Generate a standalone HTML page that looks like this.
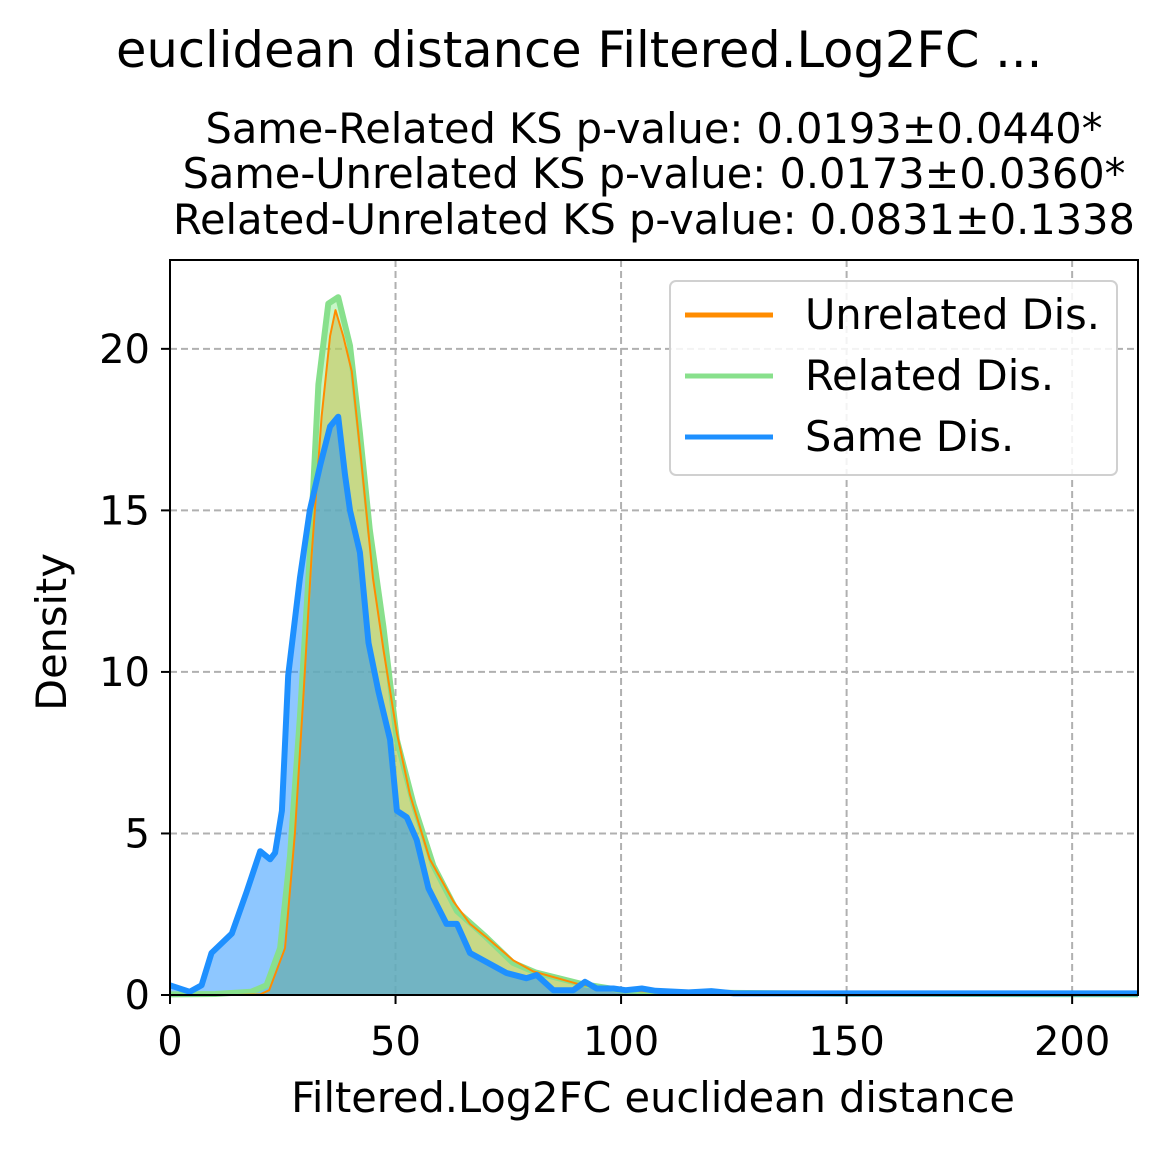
<!DOCTYPE html>
<html><head><meta charset="utf-8"><style>
body{margin:0;background:#fff}
svg{display:block;font-family:"DejaVu Sans","Liberation Sans",sans-serif}
</style></head><body>
<svg id="chart" width="1167" height="1151" viewBox="0 0 1167 1151" xmlns="http://www.w3.org/2000/svg">
<rect width="1167" height="1151" fill="#fff"/>
<text x="116" y="67" font-size="49.5" fill="#000">euclidean distance Filtered.Log2FC ...</text>
<g font-size="41.5" text-anchor="middle" fill="#000">
<text x="654" y="143">Same-Related KS p-value: 0.0193±0.0440*</text>
<text x="654" y="188">Same-Unrelated KS p-value: 0.0173±0.0360*</text>
<text x="654" y="234">Related-Unrelated KS p-value: 0.0831±0.1338</text>
</g>
<g id="grid"></g>
<g id="fills"></g>
<g id="lines"></g>
<rect x="170" y="260" width="968" height="735" fill="none" stroke="#000" stroke-width="2"/>
<g id="ticks"></g>
<text x="653" y="1112" font-size="41.5" text-anchor="middle">Filtered.Log2FC euclidean distance</text>
<text transform="translate(66,632) rotate(-90)" font-size="41.5" text-anchor="middle">Density</text>
<g>
<rect x="670" y="281" width="447" height="194" rx="6" fill="#fff" fill-opacity="0.85" stroke="#d0d0d0" stroke-width="2"/>
<g><line x1="685" y1="315" x2="773" y2="315" stroke="#ff8c00" stroke-width="5"/><text x="805" y="329" font-size="41.5">Unrelated Dis.</text></g>
<g><line x1="685" y1="376" x2="773" y2="376" stroke="#88e08c" stroke-width="5"/><text x="805" y="390" font-size="41.5">Related Dis.</text></g>
<g><line x1="685" y1="437" x2="773" y2="437" stroke="#1e90ff" stroke-width="5"/><text x="805" y="451" font-size="41.5">Same Dis.</text></g>
</g>
</svg>
<script>
const xTicks=[0,50,100,150,200];
const yTicks=[0,5,10,15,20];
const sameX=[0,4.4,7,9.2,13.7,17,20,22.2,23.3,24.8,26.2,28.8,31,33.3,35.5,37.3,38.8,39.9,42.1,44,46.2,48.8,50.3,52.5,54.7,57.3,61.3,63.6,66.5,74.6,79,81.3,85,89.4,92,94.6,98.3,101,104.6,107.6,115,120,125,150,214.6];
const sameY=[0.3,0.1,0.3,1.3,1.9,3.2,4.45,4.2,4.4,5.7,9.9,12.9,15,16.4,17.6,17.9,16.1,15,13.7,10.9,9.4,7.9,5.7,5.5,4.8,3.3,2.2,2.2,1.3,0.68,0.52,0.62,0.15,0.15,0.41,0.2,0.2,0.15,0.2,0.13,0.08,0.12,0.05,0.05,0.05];
const unrelX=[0,15,20,22,25.5,27.7,29.6,31.4,33.6,35.5,36.7,38.4,40.3,42.5,45,47.3,50.3,53.2,57.6,62.8,66.5,70,76.1,80.5,91,100,110,150,214.6];
const unrelY=[0,0,0.02,0.15,1.45,5,9.3,13.6,17.9,20.4,21.2,20.4,19.3,16.4,12.9,10.7,8.1,6.2,4.2,2.9,2.2,1.8,1.07,0.73,0.32,0.15,0.08,0.05,0.02];
const relX=[0,10,18,21.4,24.4,26.6,28.8,31,32.9,35.1,37.3,39.9,42.1,44.3,47.3,50.3,54,58.4,63.6,70,76,81,91,100,110,150,214.6];
const relY=[0.02,0.03,0.1,0.3,1.45,4.3,8.6,13.6,18.9,21.4,21.6,20.1,17.4,14.4,11.4,7.9,5.9,4,2.6,1.8,1.0,0.7,0.35,0.15,0.08,0.04,0.02];
const X0=170,X1=1138,Y0=995,Y1=260,XMAX=214.6,YMAX=22.75;
const sx=v=>X0+v/XMAX*(X1-X0), sy=v=>Y0-v/YMAX*(Y0-Y1);
const NS="http://www.w3.org/2000/svg";
const mk=(t,a,p)=>{const e=document.createElementNS(NS,t);for(const k in a)e.setAttribute(k,a[k]);p.appendChild(e);return e;};
const grid=document.getElementById('grid'),ticks=document.getElementById('ticks');
xTicks.forEach(t=>{
  const g=mk('line',{x1:sx(t),x2:sx(t),y1:Y1,y2:Y0,stroke:'#b0b0b0','stroke-width':2,'stroke-dasharray':'7,4'},grid);
  
  
  const l=mk('line',{x1:sx(t),x2:sx(t),y1:Y0,y2:Y0+9,stroke:'#000','stroke-width':2},ticks);
  
  
  const tx=mk('text',{x:sx(t),y:1055,'font-size':40,'text-anchor':'middle'},ticks);tx.textContent=t;
  
  
});
yTicks.forEach(t=>{
  const g=mk('line',{x1:X0,x2:X1,y1:sy(t),y2:sy(t),stroke:'#b0b0b0','stroke-width':2,'stroke-dasharray':'7,4'},grid);
  
  
  const l=mk('line',{x1:X0-9,x2:X0,y1:sy(t),y2:sy(t),stroke:'#000','stroke-width':2},ticks);
  
  
  const tx=mk('text',{x:X0-20,y:sy(t)+14,'font-size':40,'text-anchor':'end'},ticks);tx.textContent=t;
  
  
});
const pts=(xs,ys)=>xs.map((x,i)=>sx(x).toFixed(1)+','+sy(ys[i]).toFixed(1)).join(' ');
const fills=document.getElementById('fills'),lines=document.getElementById('lines');
const series=[['unrelated',unrelX,unrelY,'#ff8c00',2],['related',relX,relY,'#90ee90',6],['same',sameX,sameY,'#1e90ff',6]];
series.forEach(s=>{
  const f=mk('polygon',{points:sx(s[1][0])+','+Y0+' '+pts(s[1],s[2])+' '+sx(s[1][s[1].length-1])+','+Y0,fill:s[3],'fill-opacity':0.5},fills);
  
  
});
[series[1],series[0],series[2]].forEach(s=>{
  const l=mk('polyline',{points:pts(s[1],s[2]),fill:'none',stroke:s[0]==='related'?'#88e08c':s[3],'stroke-width':s[4],'stroke-linejoin':'round'},lines);
  
  
});
</script>
</body></html>
